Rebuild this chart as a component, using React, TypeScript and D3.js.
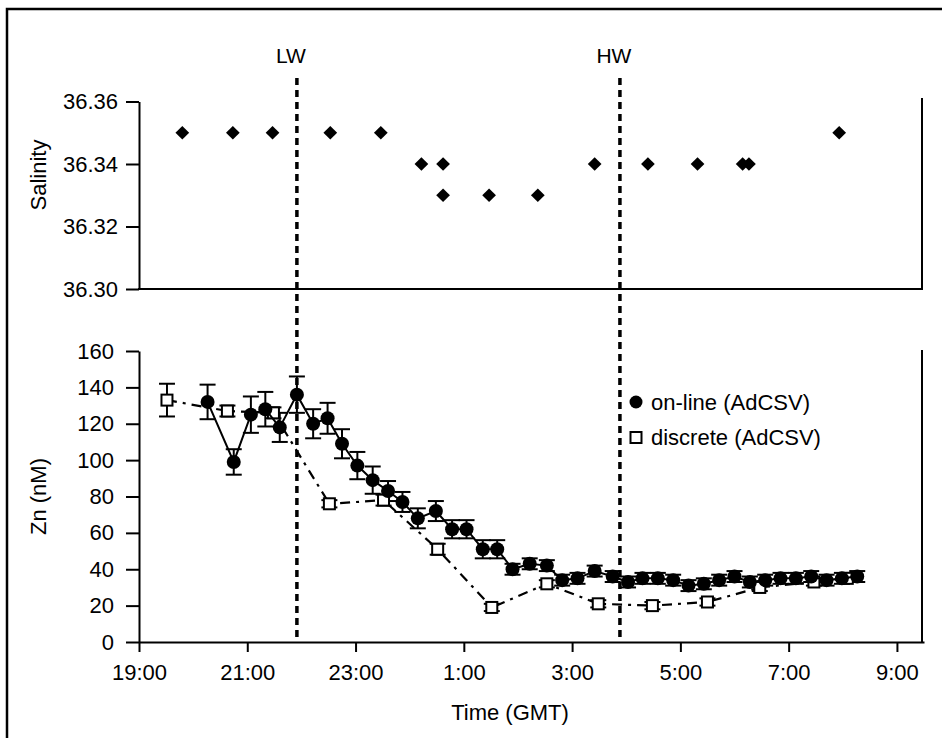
import React, { useEffect, useRef } from "react";
import * as d3 from "d3";

// salinity (top panel)
const salTimes = ["19:48", "20:44", "21:28", "22:32", "23:28", "00:13", "00:37", "00:37", "01:28", "02:22", "03:25", "04:24", "05:19", "06:09", "06:16", "07:56"];
const salValues = [36.35, 36.35, 36.35, 36.35, 36.35, 36.34, 36.34, 36.33, 36.33, 36.33, 36.34, 36.34, 36.34, 36.34, 36.34, 36.35];

// on-line Zn (AdCSV)
const onlineTimes = ["20:16", "20:45", "21:04", "21:20", "21:36", "21:55", "22:13", "22:29", "22:45", "23:02", "23:19", "23:36", "23:52", "00:09", "00:29", "00:47", "01:03", "01:21", "01:37", "01:54", "02:13", "02:32", "02:49", "03:06", "03:25", "03:45", "04:02", "04:18", "04:35", "04:52", "05:09", "05:26", "05:43", "06:00", "06:17", "06:34", "06:51", "07:08", "07:25", "07:42", "07:59", "08:16"];
const onlineValues = [132, 99, 125, 128, 118, 136, 120, 123, 109, 97, 89, 83, 77, 68, 72, 62, 62, 51, 51, 40, 43, 42, 34, 35, 39, 36, 33, 35, 35, 34, 31, 32, 34, 36, 33, 34, 35, 35, 36, 34, 35, 36];
const onlineErr = [9.5, 7, 10, 9.5, 8, 10, 8, 8.5, 8, 7.5, 7.5, 5.5, 5.5, 5.5, 5.5, 5, 5, 5, 5, 3, 3, 3, 3, 3, 3, 3, 3, 3, 3, 3, 3, 3, 3, 3, 3, 3, 3, 3, 3, 3, 3, 3];

// discrete Zn (AdCSV)
const discTimes = ["19:31", "20:38", "21:29", "22:31", "23:31", "00:31", "01:31", "02:32", "03:29", "04:29", "05:30", "06:28", "07:28", "08:05"];
const discValues = [133, 127, 126, 76, 78, 51, 19, 32, 21, 20, 22, 30, 33, 35];
const discErr = [9, 3, 3, 2, 3, 3, 2, 2, 2, 2, 2, 2, 2, 2];

const tideTimes = ["21:55", "03:53"];
const tideLabels = ["LW", "HW"];

const xTicks = [19, 21, 23, 25, 27, 29, 31, 33];
const salTicks = [36.3, 36.32, 36.34, 36.36];
const znTicks = [0, 20, 40, 60, 80, 100, 120, 140, 160];

const toHours = (s: string) => {
  const [h, m] = s.split(":").map(Number);
  let v = h + m / 60;
  if (v < 12) v += 24;
  return v;
};

const FONT = "'Liberation Sans', Arial, sans-serif";

const ZnTideChart = () => {
  const ref = useRef<SVGSVGElement>(null);

  useEffect(() => {
    const svg = d3.select(ref.current);
    svg.selectAll("*").remove();
    svg.style("font-family", FONT);

    const x = d3.scaleLinear().domain([19, 33.5]).range([139, 924]);
    const ySal = d3.scaleLinear().domain([36.3, 36.36]).range([289, 101.5]);
    const yZn = d3.scaleLinear().domain([0, 160]).range([642, 351]);

    // outer frame (left + top only)
    svg.append("path").attr("d", "M7,738 L7,9 L942,9").attr("fill", "none").attr("stroke", "#000").attr("stroke-width", 2.5);

    // ---- top panel ----
    const gTopY = svg.append("g").attr("transform", "translate(139,0)")
      .call(d3.axisLeft(ySal).tickValues(salTicks).tickFormat(d3.format(".2f")).tickSize(13).tickPadding(8).tickSizeOuter(0));
    gTopY.select(".domain").attr("stroke-width", 2);
    gTopY.selectAll(".tick line").attr("stroke-width", 2);
    gTopY.selectAll("text").attr("font-size", 22).attr("font-family", FONT).attr("fill", "#000");

    svg.append("line").attr("x1", 138).attr("x2", 923).attr("y1", ySal(36.3)).attr("y2", ySal(36.3)).attr("stroke", "#000").attr("stroke-width", 2);
    svg.append("line").attr("x1", 922).attr("x2", 922).attr("y1", 98).attr("y2", ySal(36.3)).attr("stroke", "#000").attr("stroke-width", 2);

    svg.append("text").attr("transform", "translate(46,175) rotate(-90)").attr("text-anchor", "middle")
      .attr("font-size", 22).text("Salinity");

    const diamond = d3.symbol().type(d3.symbolDiamond2).size(120);
    svg.append("g").selectAll("path").data(salTimes).join("path")
      .attr("d", diamond)
      .attr("transform", (d, i) => `translate(${x(toHours(d))},${ySal(salValues[i])})`)
      .attr("fill", "#000");

    // ---- bottom panel ----
    const gY = svg.append("g").attr("transform", "translate(139,0)")
      .call(d3.axisLeft(yZn).tickValues(znTicks).tickSize(13).tickPadding(12).tickSizeOuter(0));
    gY.select(".domain").attr("stroke-width", 2);
    gY.selectAll(".tick line").attr("stroke-width", 2);
    gY.selectAll("text").attr("font-size", 22).attr("font-family", FONT).attr("fill", "#000");

    const gX = svg.append("g").attr("transform", `translate(0,${yZn(0)})`)
      .call(d3.axisBottom(x).tickValues(xTicks).tickFormat((d) => `${(d as number) % 24}:00`).tickSize(10).tickPadding(12).tickSizeOuter(0));
    gX.select(".domain").attr("stroke-width", 2);
    gX.selectAll(".tick line").attr("stroke-width", 2);
    gX.selectAll("text").attr("font-size", 22).attr("font-family", FONT).attr("fill", "#000");

    svg.append("line").attr("x1", 922).attr("x2", 922).attr("y1", 350).attr("y2", yZn(0)).attr("stroke", "#000").attr("stroke-width", 2);

    svg.append("text").attr("transform", `translate(46,${(yZn(0) + yZn(160)) / 2}) rotate(-90)`).attr("text-anchor", "middle")
      .attr("font-size", 22).text("Zn (nM)");
    svg.append("text").attr("x", 510).attr("y", 720).attr("text-anchor", "middle").attr("font-size", 22).text("Time (GMT)");

    // tide lines
    tideTimes.forEach((t, i) => {
      const xx = x(toHours(t));
      svg.append("line").attr("x1", xx).attr("x2", xx).attr("y1", 78).attr("y2", yZn(0))
        .attr("stroke", "#000").attr("stroke-width", 3.5).attr("stroke-dasharray", "7 5");
      svg.append("text").attr("x", xx - 6).attr("y", 63).attr("text-anchor", "middle").attr("font-size", 21).text(tideLabels[i]);
    });

    // discrete series
    const discLine = d3.line<string>().x((d) => x(toHours(d))).y((d, i) => yZn(discValues[i]));
    svg.append("path").attr("d", discLine(discTimes)).attr("fill", "none").attr("stroke", "#000")
      .attr("stroke-width", 2.2).attr("stroke-dasharray", "10 6 3 6");

    const errG = svg.append("g").attr("stroke", "#000").attr("stroke-width", 2);
    const drawErr = (times: string[], vals: number[], errs: number[]) => {
      times.forEach((t, i) => {
        const xx = x(toHours(t));
        const y1 = yZn(vals[i] + errs[i]);
        const y2 = yZn(vals[i] - errs[i]);
        errG.append("line").attr("x1", xx).attr("x2", xx).attr("y1", y1).attr("y2", y2);
        errG.append("line").attr("x1", xx - 8).attr("x2", xx + 8).attr("y1", y1).attr("y2", y1);
        errG.append("line").attr("x1", xx - 8).attr("x2", xx + 8).attr("y1", y2).attr("y2", y2);
      });
    };
    drawErr(discTimes, discValues, discErr);
    drawErr(onlineTimes, onlineValues, onlineErr);

    svg.append("g").selectAll("rect").data(discTimes).join("rect")
      .attr("x", (d) => x(toHours(d)) - 5.5).attr("y", (d, i) => yZn(discValues[i]) - 5.5)
      .attr("width", 11).attr("height", 11).attr("fill", "#fff").attr("stroke", "#000").attr("stroke-width", 2);

    // on-line series
    const onLine = d3.line<string>().x((d) => x(toHours(d))).y((d, i) => yZn(onlineValues[i]));
    svg.append("path").attr("d", onLine(onlineTimes)).attr("fill", "none").attr("stroke", "#000").attr("stroke-width", 2);
    svg.append("g").selectAll("circle").data(onlineTimes).join("circle")
      .attr("cx", (d) => x(toHours(d))).attr("cy", (d, i) => yZn(onlineValues[i])).attr("r", 7).attr("fill", "#000");

    // legend
    const lg = svg.append("g").attr("transform", "translate(636,402)");
    lg.append("circle").attr("cx", 0).attr("cy", 0).attr("r", 6.5).attr("fill", "#000");
    lg.append("text").attr("x", 15).attr("y", 8).attr("font-size", 22).text("on-line (AdCSV)");
    lg.append("rect").attr("x", -5.5).attr("y", 30).attr("width", 11).attr("height", 11).attr("fill", "#fff").attr("stroke", "#000").attr("stroke-width", 2);
    lg.append("text").attr("x", 15).attr("y", 43).attr("font-size", 22).text("discrete (AdCSV)");
  });

  return (
    <svg ref={ref} width={942} height={738} style={{ position: "absolute", left: 0, top: 0, background: "#fff" }}></svg>
  );
};

export default function App() {
  return <ZnTideChart />;
}
